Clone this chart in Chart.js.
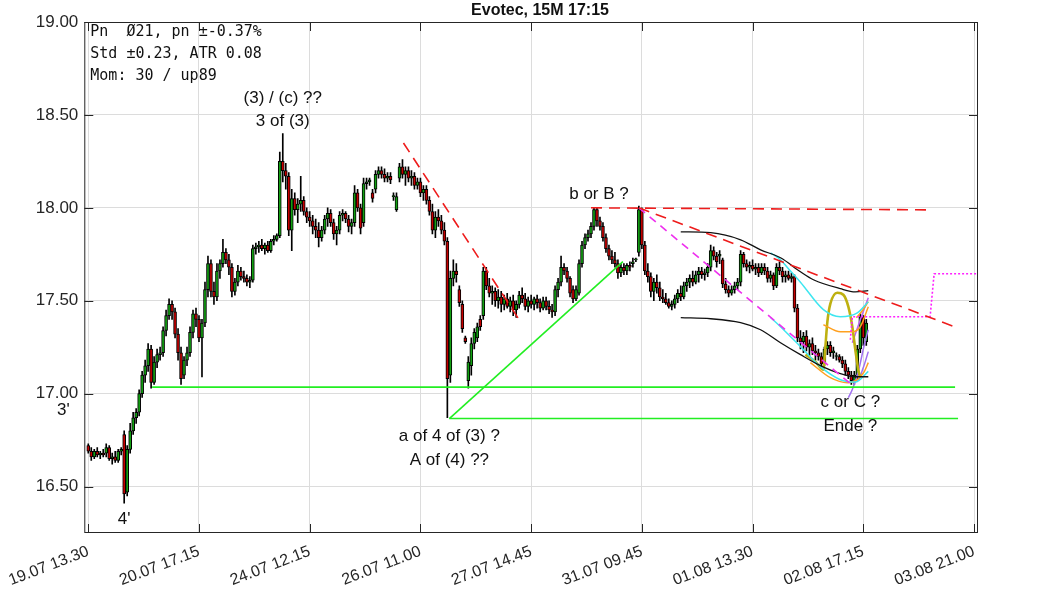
<!DOCTYPE html>
<html><head><meta charset="utf-8">
<script src="https://cdn.jsdelivr.net/npm/chart.js@4.4.0/dist/chart.umd.min.js"></script>
<style>html,body{margin:0;padding:0;background:#fff;}#wrap{width:1063px;height:591px;position:relative;}</style>
</head><body><div id="wrap"><canvas id="c"></canvas></div>
<script>
// ---- axis labels ----
const timeLabels = ["19.07 13.30","20.07 17.15","24.07 12.15","26.07 11.00","27.07 14.45","31.07 09.45","01.08 13.30","02.08 17.15","03.08 21.00"];
const tickIndex = [0,37,74,111,148,185,222,259,296];
const yTicks = [16.5,17,17.5,18,18.5,19];

// ---- 15-minute candles (open / high / low / close) ----
const opens = [
16.72,16.69,16.66,16.69,16.67,16.68,16.68,16.71,16.65,16.66,16.64,16.69,
16.78,16.47,16.70,16.80,16.87,16.90,17.00,17.10,17.15,17.24,17.06,17.17,
17.21,17.22,17.34,17.42,17.48,17.44,17.32,17.22,17.10,17.18,17.22,17.33,
17.43,17.40,17.30,17.38,17.56,17.70,17.55,17.52,17.66,17.70,17.76,17.72,
17.68,17.55,17.60,17.66,17.63,17.62,17.60,17.61,17.78,17.79,17.80,17.78,
17.80,17.77,17.82,17.83,17.85,18.25,18.20,18.17,17.88,18.05,17.99,18.02,
18.04,17.98,17.95,17.93,17.90,17.88,17.84,17.88,17.94,17.97,17.92,17.86,
17.88,17.96,17.97,17.94,17.90,17.92,18.08,18.00,17.92,18.13,18.14,18.08,
18.10,18.18,18.20,18.18,18.16,18.17,18.06,17.99,18.16,18.22,18.18,18.20,
18.16,18.17,18.12,18.14,18.08,18.10,18.04,17.98,17.88,17.95,17.93,17.88,
17.82,17.10,17.62,17.66,17.56,17.48,17.30,17.07,17.15,17.27,17.30,17.40,
17.42,17.66,17.58,17.54,17.55,17.50,17.52,17.48,17.51,17.47,17.50,17.45,
17.48,17.53,17.51,17.47,17.50,17.48,17.51,17.49,17.46,17.50,17.47,17.45,
17.44,17.56,17.60,17.68,17.66,17.62,17.56,17.51,17.54,17.70,17.80,17.84,
17.86,17.90,17.99,17.93,17.90,17.84,17.78,17.74,17.72,17.70,17.65,17.68,
17.66,17.69,17.70,17.72,17.76,17.99,17.80,17.66,17.63,17.55,17.60,17.57,
17.52,17.51,17.49,17.47,17.48,17.51,17.54,17.52,17.58,17.60,17.62,17.60,
17.64,17.66,17.64,17.65,17.68,17.77,17.74,17.74,17.72,17.59,17.56,17.54,
17.56,17.58,17.60,17.75,17.70,17.68,17.69,17.67,17.68,17.65,17.68,17.66,
17.62,17.64,17.58,17.68,17.66,17.63,17.64,17.62,17.63,17.46,17.30,17.28,
17.31,17.25,17.27,17.23,17.22,17.20,17.16,17.24,17.26,17.22,17.20,17.20,
17.18,17.16,17.12,17.10,17.07,17.10,17.24,17.41,17.28];
const highs = [
16.73,16.71,16.70,16.71,16.69,16.70,16.73,16.72,16.68,16.69,16.70,16.71,
16.80,16.72,16.84,16.90,16.92,17.02,17.12,17.18,17.27,17.26,17.20,17.24,
17.25,17.36,17.45,17.51,17.50,17.46,17.35,17.25,17.20,17.25,17.36,17.45,
17.46,17.42,17.40,17.60,17.74,17.72,17.60,17.70,17.72,17.83,17.78,17.75,
17.70,17.62,17.69,17.68,17.66,17.64,17.63,17.80,17.81,17.82,17.83,17.81,
17.82,17.83,17.85,17.86,18.30,18.40,18.24,18.19,18.10,18.08,18.05,18.17,
18.06,18.00,17.98,17.96,17.94,17.92,17.90,17.96,18.00,17.99,17.94,17.90,
17.98,17.99,17.98,17.96,17.94,18.12,18.10,18.02,18.16,18.16,18.16,18.10,
18.20,18.22,18.22,18.21,18.19,18.19,18.08,18.08,18.24,18.26,18.22,18.22,
18.20,18.19,18.16,18.16,18.12,18.12,18.06,18.02,17.98,17.99,17.96,17.92,
17.84,17.66,17.72,17.70,17.58,17.50,17.31,17.20,17.30,17.35,17.38,17.42,
17.68,17.68,17.62,17.58,17.57,17.56,17.55,17.53,17.54,17.52,17.53,17.50,
17.55,17.57,17.54,17.52,17.53,17.52,17.53,17.51,17.52,17.52,17.50,17.48,
17.58,17.62,17.74,17.70,17.68,17.63,17.58,17.58,17.72,17.82,17.86,17.88,
17.92,18.00,18.00,17.95,17.92,17.86,17.80,17.77,17.76,17.72,17.70,17.70,
17.70,17.71,17.73,17.73,18.01,18.00,17.82,17.70,17.65,17.62,17.64,17.60,
17.56,17.54,17.51,17.50,17.53,17.56,17.58,17.60,17.62,17.64,17.66,17.66,
17.68,17.68,17.67,17.70,17.80,17.79,17.76,17.77,17.73,17.62,17.58,17.58,
17.60,17.62,17.77,17.76,17.72,17.71,17.72,17.70,17.70,17.70,17.70,17.68,
17.66,17.65,17.70,17.71,17.68,17.66,17.66,17.65,17.64,17.48,17.34,17.33,
17.34,17.29,17.30,17.26,17.24,17.22,17.25,17.28,17.28,17.25,17.22,17.21,
17.20,17.18,17.14,17.12,17.12,17.26,17.43,17.42,17.40];
const lows = [
16.68,16.64,16.65,16.66,16.65,16.66,16.66,16.64,16.62,16.63,16.63,16.67,
16.41,16.45,16.68,16.78,16.84,16.88,16.98,17.06,17.12,17.03,17.05,17.14,
17.18,17.20,17.31,17.40,17.40,17.30,17.18,17.05,17.08,17.15,17.20,17.30,
17.36,17.28,17.09,17.36,17.52,17.52,17.48,17.50,17.62,17.68,17.70,17.64,
17.52,17.53,17.58,17.61,17.60,17.58,17.57,17.60,17.75,17.76,17.77,17.75,
17.76,17.76,17.80,17.82,17.84,18.14,18.10,17.85,17.77,17.96,17.92,17.98,
17.96,17.92,17.90,17.86,17.84,17.79,17.82,17.86,17.90,17.90,17.83,17.80,
17.86,17.93,17.92,17.87,17.86,17.90,17.98,17.86,17.90,18.10,18.12,18.03,
18.08,18.16,18.16,18.14,18.14,18.13,18.04,17.98,18.14,18.16,18.12,18.14,
18.12,18.10,18.10,18.06,18.04,18.02,17.96,17.86,17.84,17.90,17.86,17.80,
16.87,17.06,17.58,17.60,17.47,17.33,17.27,17.03,17.10,17.24,17.28,17.34,
17.40,17.56,17.52,17.48,17.47,17.46,17.44,17.45,17.46,17.44,17.42,17.41,
17.46,17.49,17.45,17.44,17.46,17.45,17.46,17.44,17.45,17.45,17.43,17.41,
17.42,17.52,17.58,17.64,17.60,17.52,17.49,17.50,17.53,17.68,17.78,17.82,
17.84,17.88,17.90,17.88,17.82,17.76,17.72,17.70,17.68,17.62,17.63,17.64,
17.64,17.66,17.68,17.71,17.74,17.78,17.64,17.60,17.52,17.50,17.54,17.50,
17.49,17.48,17.46,17.45,17.46,17.49,17.50,17.51,17.55,17.57,17.58,17.59,
17.60,17.62,17.61,17.63,17.66,17.72,17.68,17.70,17.57,17.54,17.52,17.53,
17.54,17.56,17.58,17.68,17.66,17.65,17.66,17.64,17.63,17.64,17.64,17.60,
17.60,17.56,17.57,17.64,17.60,17.60,17.61,17.60,17.44,17.28,17.24,17.22,
17.23,17.20,17.21,17.18,17.18,17.14,17.15,17.21,17.20,17.19,17.18,17.17,
17.14,17.10,17.08,17.05,17.05,17.08,17.22,17.26,17.26];
const closes = [
16.69,16.66,16.69,16.67,16.68,16.67,16.71,16.65,16.66,16.64,16.69,16.70,
16.46,16.70,16.80,16.87,16.90,17.00,17.10,17.15,17.24,17.06,17.17,17.21,
17.22,17.34,17.42,17.48,17.44,17.32,17.22,17.08,17.18,17.22,17.33,17.43,
17.40,17.30,17.38,17.56,17.70,17.55,17.52,17.66,17.70,17.76,17.72,17.68,
17.55,17.60,17.66,17.63,17.62,17.60,17.61,17.78,17.79,17.80,17.78,17.80,
17.77,17.82,17.83,17.85,18.25,18.20,18.17,17.88,18.05,17.99,18.02,18.04,
17.98,17.95,17.93,17.90,17.88,17.84,17.88,17.94,17.97,17.92,17.86,17.88,
17.96,17.97,17.94,17.90,17.92,18.08,18.00,17.89,18.13,18.14,18.15,18.05,
18.18,18.20,18.18,18.16,18.17,18.15,18.06,18.06,18.22,18.18,18.20,18.16,
18.17,18.12,18.14,18.08,18.10,18.04,17.98,17.88,17.95,17.93,17.88,17.82,
17.08,17.62,17.66,17.64,17.49,17.35,17.28,17.17,17.27,17.33,17.36,17.36,
17.66,17.58,17.54,17.55,17.50,17.52,17.48,17.51,17.47,17.50,17.45,17.48,
17.53,17.51,17.47,17.50,17.48,17.51,17.49,17.46,17.50,17.47,17.45,17.44,
17.56,17.60,17.68,17.66,17.62,17.54,17.51,17.56,17.70,17.80,17.84,17.86,
17.90,17.99,17.93,17.90,17.84,17.78,17.74,17.72,17.70,17.65,17.68,17.66,
17.69,17.68,17.71,17.72,17.99,17.80,17.66,17.63,17.55,17.60,17.57,17.52,
17.51,17.49,17.47,17.48,17.51,17.54,17.52,17.58,17.60,17.62,17.60,17.64,
17.66,17.64,17.65,17.68,17.77,17.74,17.71,17.75,17.59,17.56,17.54,17.56,
17.58,17.60,17.75,17.70,17.68,17.69,17.67,17.68,17.65,17.68,17.66,17.62,
17.64,17.58,17.68,17.66,17.63,17.64,17.62,17.63,17.46,17.30,17.28,17.31,
17.25,17.27,17.23,17.22,17.20,17.16,17.24,17.26,17.22,17.23,17.20,17.18,
17.16,17.12,17.10,17.07,17.10,17.24,17.41,17.30,17.38];

// ---- drawn analysis lines: [bar index, price] ----
const supportA   = [[21.33,17.035],[289.67,17.035]];
const supportB   = [[120.67,16.866],[290.67,16.866]];
const trendUp    = [[120.67,16.866],[178.67,17.71]];
const resistA    = [[105.33,18.349],[144,17.398]];
const resistB    = [[168,18.0],[282,17.989]];
const resistC    = [[184,18.0],[290.33,17.355]];
const magentaDash= [[184,18.0],[254.67,17.054]];
const targetStep = [[254.67,17.29],[255.33,17.414],[281.33,17.414],[282.67,17.645],[297.33,17.645]];
const bandUpper  = [[198,17.871],[208,17.866],[218,17.828],[224.67,17.774],[231.33,17.731],[238,17.656],[242.33,17.613],[251.33,17.565],[256.33,17.548],[260.67,17.554]];
const bandLower  = [[198,17.409],[208,17.403],[218,17.382],[224.67,17.344],[231.33,17.274],[238,17.21],[244.67,17.151],[251.33,17.108],[256.33,17.091],[260.67,17.091]];
const cyanUpper  = [[228,17.758],[231.33,17.72],[234.67,17.66],[238,17.60],[245.67,17.452],[251.33,17.414],[257,17.435],[260.67,17.495]];
const cyanLower  = [[228,17.41],[231.33,17.36],[238,17.253],[244.67,17.145],[251.33,17.075],[256.33,17.062],[260.67,17.12]];
const orangeUp   = [[245.67,17.371],[251.33,17.333],[255.33,17.333],[258,17.36],[260.67,17.468]];
const orangeUp2  = [[256.67,17.409],[258.67,17.446],[260.67,17.495]];
const orangeLow  = [[241.33,17.167],[248,17.086],[253.67,17.059],[257,17.075],[259.33,17.118],[260.67,17.167]];
const oliveArc   = [[239.67,17.21],[243,17.172],[245.67,17.129],[246.33,17.253],[247,17.387],[248,17.484],[250.33,17.543],[252.33,17.532],[254,17.468],[255.33,17.36],[256.33,17.237],[257.33,17.129],[258,17.086]];
const violet1    = [[254,16.978],[255.33,17.022],[257.33,17.118],[259.33,17.263],[260.67,17.344]];
const violet2    = [[255.33,17.065],[257.33,17.075],[259,17.14],[260.67,17.226]];
const violet3    = [[255.33,17.274],[258,17.398],[260.67,17.516]];

// ---- text notes: [text, bar index, price] ----
const notes = [
  ["(3) / (c) ??", 65, 18.59],
  ["3 of (3)", 65, 18.468],
  ["b or B ?", 170.67, 18.07],
  ["a of 4 of (3) ?", 120.67, 16.769],
  ["A of (4) ??", 120.67, 16.64],
  ["c or C ?", 254.67, 16.952],
  ["Ende ?", 254.67, 16.823],
  ["3'", -8.33, 16.909],
  ["4'", 12, 16.323]
];
const infoLines = ["Pn  Ø21, pn ±-0.37%", "Std ±0.23, ATR 0.08", "Mom: 30 / up89"];
const titleText = "Evotec, 15M 17:15";

const pts = a => a.map(p => ({x:p[0], y:p[1]}));
function lineDS(arr, color, width, dash, tension){
  return {type:'line', data:pts(arr), borderColor:color, borderWidth:width, borderDash:dash||[],
          pointRadius:0, fill:false, tension:tension||0, order:1, cubicInterpolationMode: tension? 'monotone':'default'};
}

const wickData = highs.map((h,i)=>({x:i, y:[lows[i], h]}));
const bodyData = opens.map((o,i)=>({x:i, y:[o, closes[i]]}));
const bodyColors = opens.map((o,i)=> closes[i] >= o ? '#12a012' : '#c40000');

const FONT = '"Liberation Sans", Arial, sans-serif';

const decorPlugin = {
  id:'decor',
  afterDatasetsDraw(chart){
    const {ctx, chartArea:a, scales:{x, y}} = chart;
    ctx.save();
    ctx.strokeStyle = '#262626'; ctx.lineWidth = 1;
    ctx.strokeRect(a.left+0.5, a.top+0.5, a.right-a.left-1, a.bottom-a.top-1);
    ctx.beginPath();
    yTicks.forEach(v=>{ const py=Math.round(y.getPixelForValue(v))+0.5;
      ctx.moveTo(a.left, py); ctx.lineTo(a.left+9, py);
      ctx.moveTo(a.right, py); ctx.lineTo(a.right-9, py); });
    tickIndex.forEach(v=>{ const px=Math.round(x.getPixelForValue(v))+0.5;
      ctx.moveTo(px, a.bottom); ctx.lineTo(px, a.bottom-9);
      ctx.moveTo(px, a.top); ctx.lineTo(px, a.top+9); });
    ctx.stroke();
    ctx.fillStyle = '#111';
    ctx.font = '17px ' + FONT;
    ctx.textAlign = 'center'; ctx.textBaseline = 'middle';
    notes.forEach(n => ctx.fillText(n[0], x.getPixelForValue(n[1]), y.getPixelForValue(n[2])));
    ctx.textAlign = 'left';
    ctx.font = '15px "DejaVu Sans Mono", monospace';
    infoLines.forEach((t,k)=> ctx.fillText(t, a.left+6, a.top+10+k*22));
    ctx.font = 'bold 16px ' + FONT;
    ctx.textAlign = 'center';
    ctx.fillText(titleText, 540, 11);
    ctx.restore();
  }
};

new Chart(document.getElementById('c'), {
  type:'bar',
  data:{ datasets:[
    {type:'bar', data:wickData, backgroundColor:'#000', barThickness:1, grouped:false, order:20},
    {type:'bar', data:bodyData, backgroundColor:bodyColors, borderColor:'#000', borderWidth:1,
     borderSkipped:false, barThickness:3, grouped:false, minBarLength:1, order:19},
    lineDS(supportA,'#22ee22',1.6),
    lineDS(supportB,'#22ee22',1.6),
    lineDS(trendUp,'#22ee22',1.6),
    lineDS(resistA,'#ee1c1c',1.6,[11,7]),
    lineDS(resistB,'#ee1c1c',1.6,[11,7]),
    lineDS(resistC,'#ee1c1c',1.6,[11,7]),
    lineDS(magentaDash,'#ee30ee',1.6,[8,6]),
    lineDS(targetStep,'#ff20ff',1.6,[2,2]),
    lineDS(bandUpper,'#111',1.3,null,0.4),
    lineDS(bandLower,'#111',1.3,null,0.4),
    lineDS(cyanUpper,'#3ee6f0',1.5,null,0.4),
    lineDS(cyanLower,'#3ee6f0',1.5,null,0.4),
    lineDS(orangeUp,'#ffa020',1.5,null,0.4),
    lineDS(orangeUp2,'#ffa020',1.5,null,0.4),
    lineDS(orangeLow,'#ffa020',1.5,null,0.4),
    lineDS(oliveArc,'#beb010',2.6,null,0.4),
    lineDS(violet1,'#a070f0',1.5,null,0.4),
    lineDS(violet2,'#a070f0',1.5,null,0.4),
    lineDS(violet3,'#c060f0',1.5,null,0.4)
  ]},
  options:{
    responsive:true, maintainAspectRatio:false, animation:false,
    layout:{padding:{top:22, right:85, left:0, bottom:0}},
    plugins:{legend:{display:false}, title:{display:false}, tooltip:{enabled:false}},
    scales:{
      x:{type:'linear', min:-1.333, max:297.333, offset:false,
         grid:{color:'#dcdcdc', drawTicks:false, offset:false},
         border:{display:false},
         afterBuildTicks: s => { s.ticks = tickIndex.map(v=>({value:v})); },
         afterFit: s => { s.height = 58; },
         ticks:{autoSkip:false, minRotation:21, maxRotation:21, padding:9, color:'#262626',
                font:{family:FONT, size:16},
                callback: v => { const k = tickIndex.indexOf(v); return k>=0 ? timeLabels[k] : ''; }}},
      y:{type:'linear', min:16.25, max:19.0,
         grid:{color:'#dcdcdc', drawTicks:false},
         border:{display:false},
         afterBuildTicks: s => { s.ticks = yTicks.map(v=>({value:v})); },
         afterFit: s => { s.width = 82; },
         ticks:{padding:6, color:'#262626', font:{family:FONT, size:17},
                callback: v => Number(v).toFixed(2)}}
    }
  },
  plugins:[decorPlugin]
});
</script></body></html>
